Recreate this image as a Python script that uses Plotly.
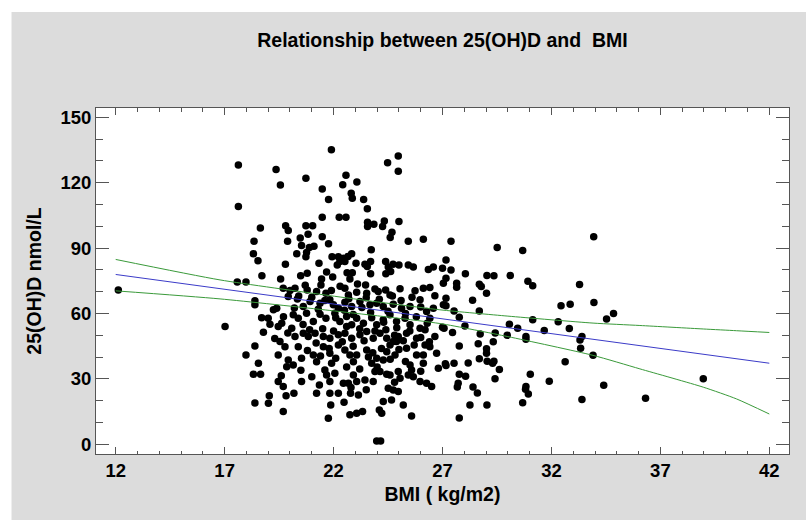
import plotly.graph_objects as go

# ---- scatter data: BMI (kg/m2) and 25(OH)D (nmol/L) ----
bmi_high = [17.63, 17.63, 21.9, 19.36, 19.56, 20.73, 24.48, 24.97, 24.97, 22.57,
            22.42, 23.07, 21.48, 21.77, 22.81, 22.86, 23.38, 23.55, 21.48, 22.26,
            22.57, 18.64, 19.8, 19.92, 20.73, 21.04, 23.56, 23.85, 23.56, 24.33,
            24.25, 25.0, 24.68, 24.6, 25.43, 26.12, 18.35, 19.89, 20.47, 20.83,
            21.48, 21.77, 20.53, 20.89, 21.1, 20.76, 20.31, 20.73, 18.32, 18.53,
            19.79, 21.33, 21.93, 22.22, 22.45, 22.66, 22.83, 22.29, 22.52, 22.17,
            23.03, 23.73, 23.44, 23.7, 23.55, 24.39, 24.73, 24.51, 24.62, 24.4,
            25.0, 25.43, 25.66, 26.35, 26.58, 18.71, 19.57, 20.49, 20.79, 21.68,
            21.96, 22.62, 22.86, 23.7, 21.45, 22.75, 27.39, 29.51, 30.68, 33.94]
vitd_high = [128.1, 109.1, 135.1, 126.1, 118.9, 122.1, 129.2, 132.2, 125.2, 123.4,
             119.1, 120.3, 117.1, 112.3, 115.2, 112.9, 112.3, 108.0, 104.1, 104.2,
             104.2, 99.2, 100.2, 98.1, 100.2, 100.2, 101.9, 101.0, 99.9, 102.4,
             99.9, 102.2, 97.3, 94.9, 93.2, 94.1, 93.2, 93.2, 94.6, 96.4,
             95.2, 92.0, 91.2, 90.3, 90.8, 88.0, 87.4, 86.0, 87.4, 84.2,
             82.6, 83.1, 86.0, 86.0, 85.4, 86.2, 87.4, 83.9, 83.9, 82.2,
             83.1, 89.2, 82.6, 83.9, 81.6, 83.9, 82.6, 81.3, 79.3, 78.2,
             82.2, 82.2, 81.3, 80.2, 81.3, 77.3, 75.8, 77.3, 78.5, 79.0,
             76.7, 78.7, 78.7, 78.2, 75.8, 75.8, 93.2, 90.3, 88.9, 95.2]

bmi_mid = [23.47, 17.58, 17.98, 19.69, 20.23, 20.79, 21.22, 21.42, 21.65, 22.52,
           22.68, 23.06, 23.52, 24.05, 24.39, 24.59, 25.05, 25.74, 26.12, 26.42,
           26.65, 18.39, 18.39, 19.92, 20.34, 20.61, 20.92, 21.38, 21.83, 21.99,
           22.22, 22.52, 22.83, 23.21, 23.67, 23.98, 24.28, 24.74, 25.12, 25.51,
           25.97, 26.27, 26.58, 19.24, 19.39, 18.7, 19.0, 19.46, 19.62, 19.08,
           20.15, 20.38, 20.76, 21.07, 21.38, 21.65, 22.06, 22.29, 22.6, 22.83,
           23.06, 23.37, 23.75, 23.98, 24.28, 24.59, 24.89, 25.28, 25.51, 25.97,
           26.2, 26.42, 26.65, 17.02, 18.78, 20.08, 20.23, 20.61, 20.84, 21.15,
           21.53, 21.83, 22.22, 22.52, 22.83, 23.21, 23.52, 23.82, 24.13, 24.44,
           24.74, 24.97, 25.35, 25.81, 26.2, 26.73, 19.54, 19.77, 18.39, 17.98,
           19.46, 19.92, 20.38, 20.53, 21.07, 21.22, 21.53, 21.83, 21.91, 22.22,
           22.52, 22.75, 23.06, 22.91, 23.52, 23.75, 23.98, 24.28, 24.44, 24.59,
           24.89, 24.82, 25.35, 25.81, 26.12, 26.42, 18.55, 18.32, 18.65, 19.85,
           20.15, 21.6, 21.68, 21.83, 22.06, 22.45, 22.68, 22.91, 23.06, 23.44,
           23.82, 23.9, 24.13, 24.44, 24.59, 24.97, 25.05, 25.43, 25.66, 25.97,
           26.27, 26.5, 25.51, 25.58, 26.12, 26.81, 19.46, 19.69, 20.53, 21.22,
           21.35, 21.83, 22.22, 22.48, 22.78, 23.14, 24.51, 24.74, 24.97, 19.05,
           19.01, 19.82, 20.18, 18.39, 19.69, 21.87, 21.76, 22.75, 23.06, 23.33,
           24.1, 24.28, 24.66, 24.21, 25.2, 25.58, 23.98, 24.16, 12.12]
vitd_mid = [73.1, 74.4, 74.4, 71.6, 71.6, 70.8, 70.1, 73.1, 69.3, 71.6,
            68.5, 69.8, 69.3, 70.1, 70.8, 68.5, 71.3, 70.4, 71.6, 71.9,
            68.2, 65.8, 64.0, 67.8, 66.7, 63.2, 65.5, 64.7, 66.3, 64.0,
            62.4, 65.2, 63.2, 65.5, 64.0, 64.7, 63.2, 64.3, 62.4, 63.2,
            66.3, 60.9, 62.4, 61.7, 62.4, 58.1, 57.8, 54.0, 55.5, 55.1,
            59.4, 57.8, 60.1, 56.3, 59.7, 57.8, 60.1, 56.3, 58.6, 54.8,
            57.8, 55.5, 58.1, 54.8, 57.1, 59.4, 56.3, 57.8, 54.8, 53.2,
            52.5, 57.8, 49.4, 54.0, 51.4, 53.2, 49.4, 50.9, 49.4, 50.9,
            49.4, 48.6, 50.2, 50.9, 48.6, 50.2, 51.7, 48.6, 50.9, 48.6,
            47.1, 49.4, 50.9, 48.6, 45.6, 41.8, 47.1, 44.8, 45.1, 41.0,
            41.0, 38.7, 44.8, 39.5, 41.0, 37.9, 44.8, 41.8, 37.2, 45.6,
            43.3, 41.0, 41.0, 37.9, 43.3, 37.2, 39.5, 38.7, 42.5, 45.6,
            47.1, 41.0, 44.1, 41.0, 37.2, 44.8, 37.2, 32.1, 32.1, 35.6,
            36.4, 34.1, 31.8, 28.8, 32.6, 28.0, 28.0, 31.8, 28.8, 29.5,
            28.8, 33.4, 33.4, 32.1, 31.8, 33.4, 30.3, 31.8, 31.0, 28.8,
            28.0, 26.5, 36.4, 34.1, 41.0, 34.9, 28.8, 26.5, 28.8, 23.4,
            27.2, 23.4, 23.4, 19.3, 23.4, 22.6, 25.7, 24.9, 24.2, 22.3,
            18.8, 22.3, 23.4, 18.9, 15.0, 18.0, 11.9, 13.5, 14.2, 15.0,
            15.7, 19.6, 20.3, 14.2, 18.0, 13.0, 1.5, 1.5, 70.8]

bmi_dense = [20.0, 20.4, 20.7, 21.0, 21.3, 21.6, 21.9, 22.1, 22.3, 22.5,
             22.7, 22.9, 23.1, 23.3, 23.5, 23.7, 23.9, 24.1, 24.3, 24.5,
             24.7, 24.9, 25.1, 25.3, 25.6, 25.8, 26.0, 26.3, 20.2, 20.6,
             20.9, 21.2, 21.5, 21.8, 22.0, 22.4, 22.6, 22.9, 23.2, 23.4,
             23.6, 23.9, 24.2, 24.4, 24.6, 24.8, 25.0, 25.2, 25.5, 25.7,
             26.0, 26.4, 19.7, 19.9, 19.3, 22.1, 22.6, 23.2, 23.8, 24.0,
             21.4, 20.8, 25.3, 26.0, 22.8, 23.5, 21.0, 24.8, 20.5, 19.6]
vitd_dense = [70.5, 68.0, 73.0, 67.5, 62.0, 66.0, 70.5, 58.0, 72.5, 61.5,
              66.8, 59.5, 73.5, 62.8, 67.2, 60.5, 71.2, 66.5, 56.0, 61.0,
              68.0, 53.5, 66.0, 60.0, 67.5, 58.5, 63.0, 55.5, 62.5, 55.0,
              52.5, 46.5, 53.0, 44.0, 52.0, 47.0, 54.0, 45.0, 53.0, 47.5,
              40.0, 52.0, 44.0, 52.5, 39.0, 50.0, 43.5, 47.5, 52.0, 45.5,
              49.0, 47.0, 58.5, 51.0, 48.5, 39.5, 35.5, 34.5, 42.0, 35.5,
              40.5, 43.0, 38.0, 33.5, 26.0, 25.0, 31.0, 28.5, 34.0, 31.5]

bmi_right = [27.16, 27.0, 27.39, 27.16, 27.04, 27.65, 27.65, 28.05, 28.69, 28.78,
             29.04, 29.36, 30.11, 29.02, 28.38, 27.16, 27.04, 27.16, 27.53, 28.69,
             30.92, 31.14, 33.29, 32.44, 32.86, 33.95, 34.53, 34.85, 31.14, 32.31,
             32.82, 31.67, 30.07, 30.45, 29.97, 29.42, 28.73, 29.33, 28.64, 29.02,
             29.02, 28.69, 29.05, 29.36, 29.3, 29.61, 29.41, 27.77, 28.03, 27.46,
             27.07, 27.0, 27.77, 28.18, 27.13, 27.16, 27.53, 27.77, 28.06, 27.72,
             27.68, 28.4, 28.6, 28.26, 29.04, 27.77, 30.68, 30.81, 30.94, 30.83,
             31.03, 30.83, 30.83, 31.9, 32.63, 33.31, 33.4, 33.34, 33.91, 34.4,
             33.4, 36.32, 38.97]
vitd_right = [84.6, 80.8, 80.0, 76.2, 73.9, 73.9, 72.1, 78.2, 73.4, 72.4,
              77.4, 77.3, 77.4, 69.3, 66.1, 67.0, 64.0, 63.5, 61.2, 61.2,
              74.8, 72.7, 73.3, 63.5, 64.3, 65.0, 57.5, 60.0, 57.1, 56.2,
              53.1, 52.2, 55.1, 53.2, 50.0, 51.0, 50.6, 47.0, 46.1, 43.8,
              41.8, 39.2, 38.1, 38.1, 37.2, 34.3, 30.1, 58.3, 54.3, 51.3,
              53.2, 53.7, 45.1, 37.3, 36.9, 36.1, 37.2, 32.1, 31.2, 28.0,
              26.3, 26.3, 23.5, 18.0, 18.0, 12.1, 19.1, 25.2, 23.1, 26.5,
              32.1, 49.4, 48.2, 28.9, 37.9, 47.9, 49.4, 44.1, 40.8, 27.1,
              20.5, 21.1, 30.1]

# ---- fitted line and limits ----
fit_x = [12, 42]
fit_y = [77.9, 37.2]
band_x = [12, 16.79, 21.83, 26.88, 30.0, 33.91, 36.06, 38.97, 40.5, 42]
upper_y = [84.8, 75.4, 68.2, 61.7, 58.8, 55.6, 54.5, 52.9, 52.1, 51.3]
lower_y = [70.4, 66.7, 61.4, 55.4, 49.4, 40.8, 34.6, 26.2, 20.8, 13.9]

x_ticks = [12, 17, 22, 27, 32, 37, 42]
y_ticks = [0, 30, 60, 90, 120, 150]

title_text = "Relationship between 25(OH)D and \u00a0BMI"
x_title = "BMI ( kg/m2)"
y_title = "25(OH)D nmol/L"

bmi = bmi_high + bmi_mid + bmi_dense + bmi_right
vitd = vitd_high + vitd_mid + vitd_dense + vitd_right

FONT = "Liberation Sans, Arial, sans-serif"
AX = "#555555"
GRAY = "#dcdcdc"

fig = go.Figure()
fig.add_trace(go.Scatter(x=bmi, y=vitd, mode="markers",
                         marker=dict(size=7.5, color="black", line=dict(width=0)),
                         showlegend=False, hoverinfo="x+y"))
fig.add_trace(go.Scatter(x=band_x, y=upper_y, mode="lines",
                         line=dict(color="#3a9a3a", width=1, shape="spline", smoothing=0.6),
                         showlegend=False))
fig.add_trace(go.Scatter(x=band_x, y=lower_y, mode="lines",
                         line=dict(color="#3a9a3a", width=1, shape="spline", smoothing=0.6),
                         showlegend=False))
fig.add_trace(go.Scatter(x=fit_x, y=fit_y, mode="lines", line=dict(color="#3b3bc8", width=1),
                         showlegend=False))

axis_common = dict(showgrid=False, zeroline=False, showline=True, linecolor=AX, linewidth=1,
                   mirror="allticks", ticks="inside", tickcolor=AX, tickwidth=1,
                   tickfont=dict(family=FONT, size=18.5, color="black", weight="bold"))

fig.update_xaxes(range=[11.096, 42.904], tickvals=x_ticks, ticktext=[str(v) for v in x_ticks],
                 ticklen=7,
                 minor=dict(dtick=1, tick0=12, ticks="inside", ticklen=3.5, tickcolor=AX, showgrid=False),
                 title=dict(text=x_title, font=dict(family=FONT, size=19.5, color="black", weight="bold"),
                            standoff=7),
                 **axis_common)
fig.update_yaxes(range=[-4.45, 154.27], tickvals=y_ticks, ticktext=[str(v) for v in y_ticks],
                 ticklen=13,
                 minor=dict(dtick=10, tick0=0, ticks="inside", ticklen=7, tickcolor=AX, showgrid=False),
                 title=dict(text=y_title, font=dict(family=FONT, size=19.5, color="black", weight="bold"),
                            standoff=13),
                 **axis_common)

fig.update_layout(
    width=806, height=520,
    margin=dict(l=96, r=17, t=108, b=66),
    paper_bgcolor=GRAY, plot_bgcolor="white",
    title=dict(text=title_text, x=(96 + 789) / 2 / 806, xanchor="center",
               y=1 - 40 / 520, yanchor="middle", yref="container",
               font=dict(family=FONT, size=19.5, color="black", weight="bold")),
    shapes=[
        dict(type="rect", xref="paper", yref="paper", x0=-0.2, x1=(11.5 - 96) / 693,
             y0=-0.3, y1=1.4, fillcolor="white", line=dict(width=0), layer="below"),
        dict(type="rect", xref="paper", yref="paper", x0=-0.2, x1=1.1,
             y0=(454 - 12) / 346, y1=1.4, fillcolor="white", line=dict(width=0), layer="below"),
    ],
)

fig.write_html("out.html")
